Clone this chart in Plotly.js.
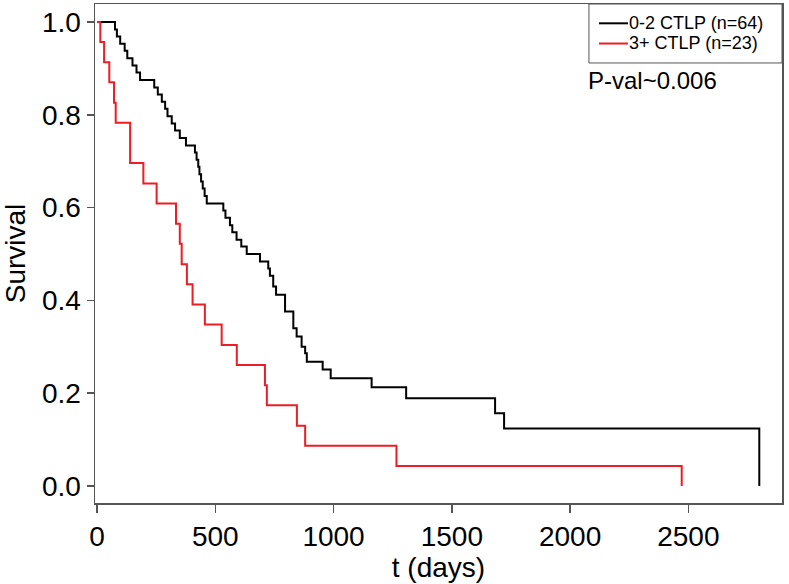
<!DOCTYPE html>
<html>
<head>
<meta charset="utf-8">
<script src="https://cdn.plot.ly/plotly-3.0.1.min.js"></script>
<style>
  html, body { margin: 0; padding: 0; background: #ffffff; }
  #chart { width: 789px; height: 584px; }
</style>
</head>
<body>
<div id="chart"></div>
<script>
// Kaplan-Meier step points
const lowName = '0-2 CTLP (n=64)';
const lowTime = [0,76,84,98,117,128,150,167,182,242,257,274,288,298,316,330,350,376,414,421,428,433,440,447,455,464,534,543,562,572,590,610,633,689,724,731,745,757,795,830,844,865,880,887,954,988,1161,1307,1683,1721,2800];
const lowSurv = [1,0.984,0.969,0.953,0.938,0.922,0.906,0.891,0.875,0.859,0.844,0.828,0.813,0.797,0.781,0.766,0.750,0.734,0.719,0.703,0.688,0.672,0.656,0.641,0.625,0.609,0.594,0.578,0.562,0.547,0.531,0.516,0.500,0.484,0.469,0.453,0.430,0.412,0.376,0.340,0.322,0.300,0.286,0.268,0.251,0.232,0.213,0.189,0.157,0.124,0];

const highName = '3+ CTLP (n=23)';
const highTime = [0,14,30,52,72,79,140,196,252,334,350,358,380,404,456,527,591,710,718,845,880,1266,2472];
const highSurv = [1,0.957,0.913,0.870,0.826,0.783,0.696,0.652,0.609,0.565,0.522,0.478,0.435,0.391,0.348,0.304,0.261,0.217,0.174,0.130,0.087,0.043,0];

const xTicks = [0,500,1000,1500,2000,2500];
const yTicks = [0,0.2,0.4,0.6,0.8,1.0];
const pText = 'P-val~0.006';

const FONT = 'Liberation Sans, Arial, Helvetica, sans-serif';
const boxColor = '#555555';
const lowColor = '#000000';
const highColor = '#ee1c24';

const traces = [
  {x: lowTime, y: lowSurv, name: lowName, type: 'scatter', mode: 'lines',
   line: {shape: 'hv', color: lowColor, width: 2}},
  {x: highTime, y: highSurv, name: highName, type: 'scatter', mode: 'lines',
   line: {shape: 'hv', color: highColor, width: 2}}
];

// compact legend box drawn in the top-right corner of the plot frame
const legendEntries = [
  {name: lowName, color: lowColor, y: 0.9613},
  {name: highName, color: highColor, y: 0.9208}
];
const shapes = [
  {type: 'rect', xref: 'paper', yref: 'paper', x0: 0.719, x1: 1, y0: 0.8818, y1: 1,
   line: {color: boxColor, width: 1}, fillcolor: '#ffffff', layer: 'above'}
].concat(legendEntries.map(e => ({
   type: 'line', xref: 'paper', yref: 'paper', x0: 0.7336, x1: 0.7758, y0: e.y, y1: e.y,
   line: {color: e.color, width: 2}, layer: 'above'})));

// one text block; base size sets the line spacing, spans set the glyph size
const legendText = legendEntries
  .map(e => '<span style="font-size:18px">' + e.name + '</span>')
  .join('<br>');

const annotations = [
  {xref: 'paper', yref: 'paper', x: 0.7755, y: 0.9411, xanchor: 'left', yanchor: 'middle',
   align: 'left', borderpad: 0, text: legendText, showarrow: false,
   font: {family: FONT, size: 15.6, color: '#000000'}},
  {xref: 'paper', yref: 'paper', x: 0.715, y: 0.846, xanchor: 'left', yanchor: 'middle',
   text: pText, showarrow: false, font: {family: FONT, size: 24, color: '#000000'}}
];

const layout = {
  width: 789, height: 584,
  margin: {l: 95, r: 7, t: 4, b: 81},
  paper_bgcolor: '#ffffff', plot_bgcolor: '#ffffff',
  font: {family: FONT, color: '#000000'},
  showlegend: false,
  xaxis: {range: [-8.5, 2896], tickvals: xTicks, ticktext: xTicks.map(String),
          showgrid: false, zeroline: false, showline: true, mirror: true,
          linecolor: boxColor, linewidth: 1.5,
          ticks: 'outside', ticklen: 8, tickwidth: 1.5, tickcolor: boxColor,
          tickfont: {family: FONT, size: 28, color: '#000000'},
          title: {text: 't (days)', font: {family: FONT, size: 28, color: '#000000'}, standoff: 4}},
  yaxis: {range: [-0.0366, 1.0388], tickvals: yTicks, ticktext: yTicks.map(v => v.toFixed(1)),
          showgrid: false, zeroline: false, showline: true, mirror: true,
          linecolor: boxColor, linewidth: 1.5,
          ticks: 'outside', ticklen: 7, tickwidth: 1.5, tickcolor: boxColor,
          tickfont: {family: FONT, size: 28, color: '#000000'},
          title: {text: 'Survival', font: {family: FONT, size: 28, color: '#000000'}, standoff: 8}},
  shapes: shapes,
  annotations: annotations
};

Plotly.newPlot('chart', traces, layout, {displayModeBar: false, staticPlot: true});
</script>
</body>
</html>
